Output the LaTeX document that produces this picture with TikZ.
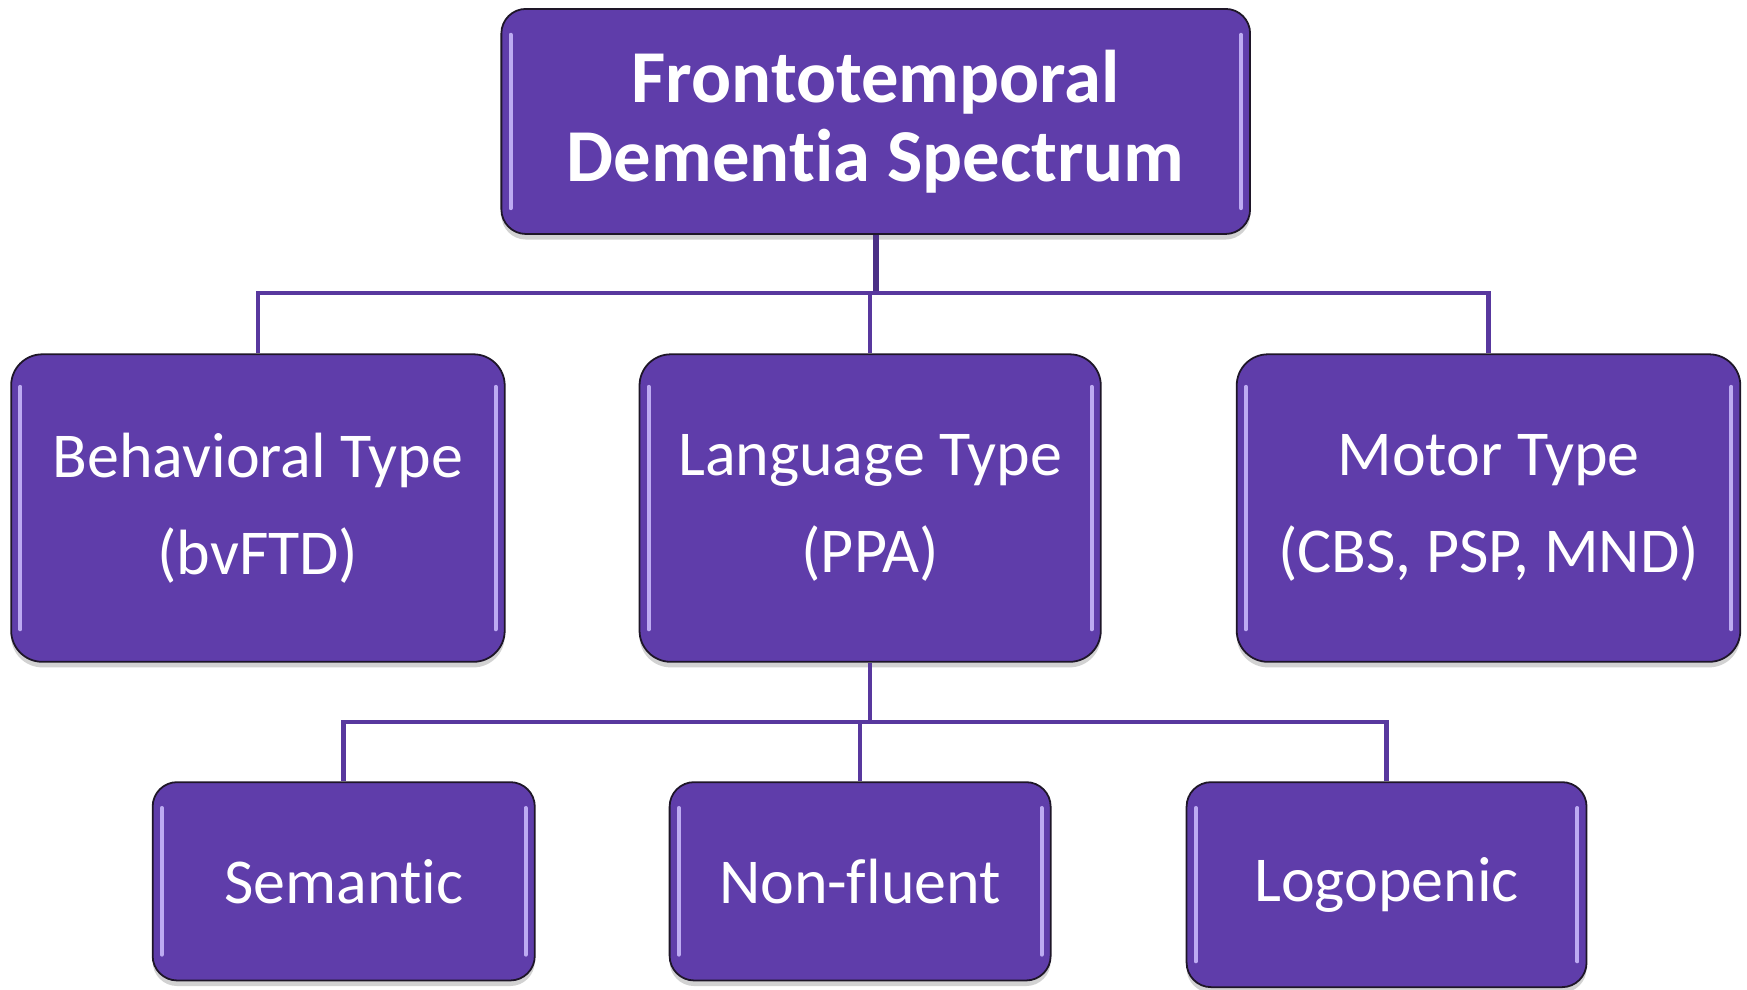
\documentclass[tikz,border=0pt]{standalone}
\usepackage{fontspec}
\setmainfont{Carlito}[Ligatures={NoCommon}]
\usetikzlibrary{shadows,calc}
\definecolor{boxfill}{RGB}{95,61,170}
\definecolor{boxedge}{RGB}{30,22,40}
\definecolor{linkcol}{RGB}{88,56,158}
\definecolor{glint}{RGB}{200,184,250}
\tikzset{
  fbox/.style={draw=boxedge, line width=0.8pt, fill=boxfill, rounded corners=13pt,
    text=white, align=center, inner sep=0pt,
    drop shadow={shadow xshift=0pt, shadow yshift=-2.5pt, opacity=0.25, fill=black!70}},
  titlebox/.style={fbox, font={\fontsize{33.5pt}{35.5pt}\selectfont\bfseries}, rounded corners=11pt},
  midbox/.style={fbox, font={\fontsize{28.7pt}{43.5pt}\selectfont}, rounded corners=14pt},
  lowbox/.style={fbox, font={\fontsize{28.7pt}{36pt}\selectfont}, rounded corners=11pt},
  link/.style={draw=linkcol, line width=2pt},
  mainlink/.style={draw=linkcol!85!black, line width=2.6pt},
  glintline/.style={draw=glint, line width=1.8pt, line cap=round, opacity=0.9},
}
\begin{document}
\begin{tikzpicture}[x=0.5pt, y=-0.5pt]
\useasboundingbox (0,0) rectangle (1568,888);

% boxes
\node[titlebox, minimum width=336pt, minimum height=101pt] (top) at (786,109)
  {Frontotemporal\\Dementia Spectrum};
\node[midbox, minimum width=221.5pt, minimum height=138pt] (beh) at (231.5,456)
  {Behavioral Type\\(bvFTD)};
\node[midbox, minimum width=207pt, minimum height=138pt] (lang) at (781,456)
  {Language Type\\(PPA)};
\node[midbox, minimum width=226pt, minimum height=138pt] (motor) at (1336,456)
  {Motor Type\\(CBS, PSP, MND)};
\node[lowbox, minimum width=171.5pt, minimum height=89pt] (sem) at (308.5,791) {Semantic};
\node[lowbox, minimum width=171pt, minimum height=89pt] (nonf) at (772,791) {Non-fluent};
\node[lowbox, minimum width=179.5pt, minimum height=92pt] (logo) at (1244.5,794) {Logopenic};

% glints on box sides
\foreach \n/\d in {top/24,beh/30,lang/30,motor/30,sem/24,nonf/24,logo/24}{
  \draw[glintline] ($(\n.north west)+(9,\d)$) -- ($(\n.south west)+(9,-\d)$);
  \draw[glintline] ($(\n.north east)+(-9,\d)$) -- ($(\n.south east)+(-9,-\d)$);
}

% connectors, level 1
\coordinate (bus1) at (786,263);
\draw[mainlink] (top.south) -- (top.south |- bus1);
\draw[link] (beh.north) |- (bus1);
\draw[link] (motor.north) |- (bus1);
\draw[link] (lang.north) -- (lang.north |- bus1);

% connectors, level 2
\coordinate (bus2) at (780,648);
\draw[link] (lang.south) -- (lang.south |- bus2);
\draw[link] (sem.north) |- (bus2);
\draw[link] (logo.north) |- (bus2);
\draw[link] (nonf.north) -- (nonf.north |- bus2);
\end{tikzpicture}
\end{document}
